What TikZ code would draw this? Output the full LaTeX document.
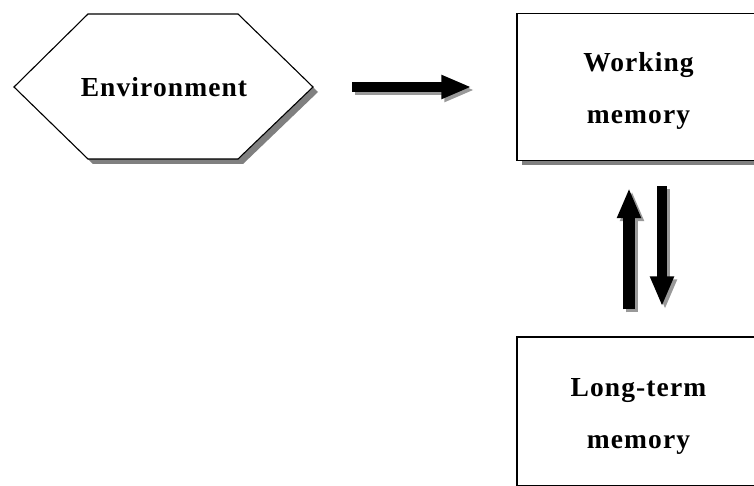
\documentclass[tikz,border=0pt]{standalone}
\usepackage{fontspec}
\setmainfont{Liberation Serif}
\newfontfamily\lblfont[LetterSpace=4]{Liberation Serif}
\usetikzlibrary{arrows.meta,shadows}
\begin{document}
\begin{tikzpicture}[x=1pt,y=-1pt,
  lbl/.style={font=\lblfont\bfseries\fontsize{27.5}{52}\selectfont, align=center},
  boxnode/.style={draw=black, line width=1.1pt, fill=white, minimum width=243pt, inner sep=0pt,
    drop shadow={shadow xshift=5pt, shadow yshift=-5pt, fill=black!50, opacity=1}},
  bigarrow/.style={line width=#1, -{Triangle[length=30pt,width=22pt]}},
  bigarrow/.default=10pt,
  arrshadow/.style={draw=black!40, transform canvas={shift={(3pt,-3pt)}}}
]
\useasboundingbox (0,0) rectangle (754,486);
\fill[white] (0,0) rectangle (754,486);
\clip (0,0) rectangle (754,486);

% Environment hexagon
\fill[black!50] (19,92) -- (93,19) -- (243,19) -- (318,92) -- (243,164) -- (93,164) -- cycle;
\draw[line width=1.1pt, fill=white] (14,87) -- (88,14) -- (238,14) -- (313,87) -- (238,159) -- (88,159) -- cycle;
\coordinate (envE) at (313,87);
\node[lbl] (env) at (164,87) {Environment};

% Boxes
\node[boxnode, minimum height=147pt] (wm) at (638.5,87) {};
\node[lbl] (wmt) at (638.5,91) {Working\\memory};
\node[boxnode, minimum height=149pt] (ltm) at (638.5,411.5) {};
\node[lbl] (ltmt) at (638.5,416) {Long-term\\memory};

% Arrows (shadows first)
\draw[bigarrow, arrshadow, shorten <=39pt, shorten >=45pt] (envE) -- (wm.west);
\draw[bigarrow=12pt, arrshadow, shorten <=27pt, shorten >=27pt] ([xshift=-9.5pt]ltm.north) -- ([xshift=-9.5pt]wm.south);
\draw[bigarrow, arrshadow, shorten <=25pt, shorten >=30pt] ([xshift=23.5pt]wm.south) -- ([xshift=23.5pt]ltm.north);

\draw[bigarrow, shorten <=39pt, shorten >=45pt] (envE) -- (wm.west);
\draw[bigarrow=12pt, shorten <=27pt, shorten >=27pt] ([xshift=-9.5pt]ltm.north) -- ([xshift=-9.5pt]wm.south);
\draw[bigarrow, shorten <=25pt, shorten >=30pt] ([xshift=23.5pt]wm.south) -- ([xshift=23.5pt]ltm.north);
\end{tikzpicture}
\end{document}
